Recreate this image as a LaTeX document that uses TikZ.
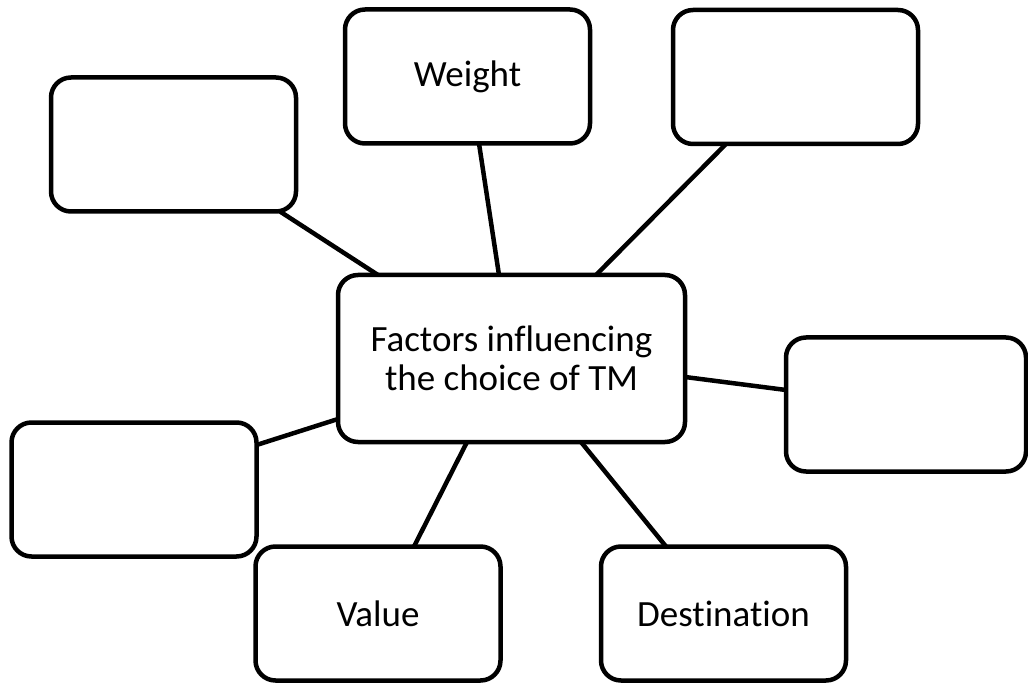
\documentclass[tikz,border=0pt]{standalone}
\usepackage{fontspec}
\setmainfont{Carlito}[Ligatures=NoCommon]
\begin{document}
\begin{tikzpicture}[x=1pt,y=-1pt,
  box/.style={draw=black, line width=4.5pt, rounded corners=20pt, outer sep=0pt,
    inner sep=4pt, align=center, font=\fontsize{37}{39}\selectfont,
    minimum width=245pt, minimum height=134pt},
  link/.style={draw=black, line width=4.5pt}]
\useasboundingbox (0,0) rectangle (1028,684);
\node[box] (tl) at (173.5,144.5) {};
\node[box] (w) at (467.5,76.5) {Weight};
\node[box] (tr) at (795.5,77) {};
\node[box, minimum width=347pt, minimum height=167pt] (c) at (511.5,358.5) {Factors influencing\\the choice of TM};
\node[box, minimum width=240pt] (r) at (906,404.5) {};
\node[box] (l) at (134,489.5) {};
\node[box] (v) at (378,613.5) {Value};
\node[box] (d) at (723.5,613.5) {Destination};
\draw[link] ([xshift=-16pt]tl.south east) -- ([xshift=40pt]c.north west);
\draw[link] ([xshift=11.5pt]w.south) -- ([xshift=-12.5pt]c.north);
\draw[link] ([xshift=53pt]tr.south west) -- ([xshift=84.5pt]c.north);
\draw[link] ([yshift=-18.5pt]c.east) -- ([yshift=14.5pt]r.west);
\draw[link] ([yshift=44.5pt]l.east) -- ([yshift=-60.5pt]c.west);
\draw[link] ([xshift=36pt]v.north) -- ([xshift=-44.5pt]c.south);
\draw[link] ([xshift=69.5pt]c.south) -- ([xshift=-57.5pt]d.north);
\end{tikzpicture}
\end{document}
